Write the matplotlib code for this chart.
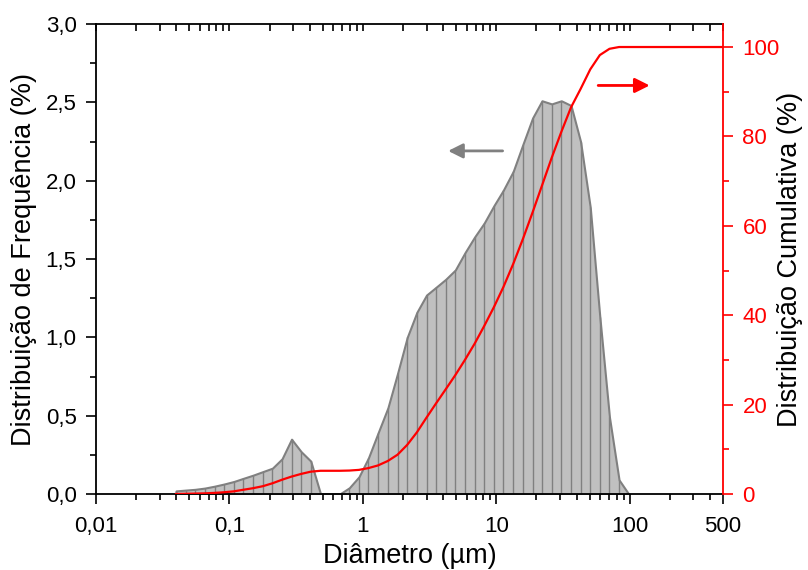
import matplotlib
matplotlib.use("Agg")
import matplotlib.pyplot as plt
from matplotlib.ticker import FixedLocator, LogLocator, MultipleLocator, FuncFormatter, NullFormatter

plt.rcParams['font.family'] = ['Liberation Sans', 'DejaVu Sans']

# particle size classes (um) and frequency (%)
diam = [0.0398, 0.047, 0.0555, 0.0655, 0.0773, 0.0914, 0.108, 0.127, 0.150, 0.178,
        0.210, 0.248, 0.292, 0.345, 0.407, 0.482, 0.568, 0.671, 0.792, 0.935,
        1.10, 1.30, 1.54, 1.82, 2.15, 2.54, 3.00, 3.54, 4.17, 4.93,
        5.82, 6.87, 8.12, 9.59, 11.3, 13.4, 15.8, 18.7, 22.0, 26.0,
        30.7, 36.3, 42.8, 50.6, 59.7, 70.5, 83.2, 98.2]
freq = [0.02, 0.025, 0.03, 0.038, 0.05, 0.064, 0.08, 0.10, 0.12, 0.143,
        0.165, 0.225, 0.35, 0.27, 0.21, 0.0, 0.0, 0.0, 0.04, 0.11,
        0.23, 0.39, 0.55, 0.77, 1.00, 1.16, 1.27, 1.32, 1.37, 1.43,
        1.54, 1.64, 1.73, 1.84, 1.94, 2.06, 2.23, 2.40, 2.51, 2.49,
        2.51, 2.48, 2.25, 1.83, 1.13, 0.49, 0.09, 0.0]

# cumulative distribution (%)
cum_diam = diam + [500]
cum = [0.0, 0.05, 0.1, 0.15, 0.25, 0.4, 0.6, 0.95, 1.3, 1.75,
       2.4, 3.2, 3.9, 4.5, 5.0, 5.2, 5.2, 5.2, 5.25, 5.4,
       5.8, 6.4, 7.4, 8.8, 11.0, 13.8, 17.1, 20.3, 23.4, 26.6,
       30.0, 33.6, 37.6, 41.8, 46.3, 51.5, 57.0, 63.0, 69.0, 75.2,
       81.0, 86.5, 90.6, 95.0, 98.2, 99.6, 100, 100, 100]

x_major = [0.01, 0.1, 1, 10, 100, 500]
x_labels = ['0,01', '0,1', '1', '10', '100', '500']

fig = plt.figure(figsize=(8.08, 5.70), dpi=100)
ax = fig.add_axes([0.1188, 0.1333, 0.776, 0.8246])

ax.fill_between(diam, freq, 0, facecolor='#c0c0c0', edgecolor='#808080', linewidth=1.5, zorder=1)
ax.vlines(diam, 0, freq, color='#808080', linewidth=1, zorder=1.5)

ax.set_xscale('log')
ax.set_xlim(0.01, 500)
ax.set_ylim(0, 3.0)
ax.xaxis.set_major_locator(FixedLocator(x_major))
ax.xaxis.set_major_formatter(FuncFormatter(lambda v, p: x_labels[x_major.index(v)] if v in x_major else ''))
ax.xaxis.set_minor_locator(LogLocator(base=10, subs=range(2, 10)))
ax.xaxis.set_minor_formatter(NullFormatter())
ax.yaxis.set_major_locator(MultipleLocator(0.5))
ax.yaxis.set_minor_locator(MultipleLocator(0.25))
ax.yaxis.set_major_formatter(FuncFormatter(lambda v, p: f"{v:.1f}".replace('.', ',')))

ax.tick_params(which='major', direction='out', length=7, width=1.2, labelsize=16, pad=7)
ax.tick_params(which='minor', direction='out', length=4, width=1.2)
ax.tick_params(axis='x', which='major', pad=9)
for s in ['left', 'bottom', 'top']:
    ax.spines[s].set_linewidth(1.3)
ax.spines['right'].set_visible(False)

ax.set_xlabel('Diâmetro (µm)', fontsize=19.5, labelpad=4)
ax.set_ylabel('Distribuição de Frequência (%)', fontsize=19.5, labelpad=6)

ax.annotate('', xy=(4.15, 2.19), xytext=(11.7, 2.19),
            arrowprops=dict(arrowstyle='-|>', color='#808080', lw=2, mutation_scale=22))

# inward ticks along the top
axt = ax.twiny()
axt.set_xscale('log')
axt.set_xlim(0.01, 500)
axt.xaxis.set_major_locator(FixedLocator(x_major))
axt.xaxis.set_minor_locator(LogLocator(base=10, subs=range(2, 10)))
axt.xaxis.set_major_formatter(NullFormatter())
axt.xaxis.set_minor_formatter(NullFormatter())
axt.tick_params(which='both', direction='in', length=5, width=1.2)
for s in axt.spines.values():
    s.set_visible(False)

ax2 = ax.twinx()
ax2.plot(cum_diam, cum, color='red', linewidth=1.6)
ax2.set_ylim(0, 105.15)
ax2.yaxis.set_major_locator(MultipleLocator(20))
ax2.yaxis.set_minor_locator(MultipleLocator(10))
ax2.tick_params(which='major', direction='out', length=7, width=1.2, colors='red', labelsize=16, pad=7)
ax2.tick_params(which='minor', direction='out', length=4, width=1.2, colors='red')
for s in ['left', 'bottom', 'top']:
    ax2.spines[s].set_visible(False)
ax2.spines['right'].set_color('red')
ax2.spines['right'].set_linewidth(1.3)
ax2.set_ylabel('Distribuição Cumulativa (%)', fontsize=19.5, labelpad=-2)

ax2.annotate('', xy=(148, 91.4), xytext=(55.3, 91.4),
             arrowprops=dict(arrowstyle='-|>', color='red', lw=2, mutation_scale=22))

fig.savefig('out.png', dpi=100)
